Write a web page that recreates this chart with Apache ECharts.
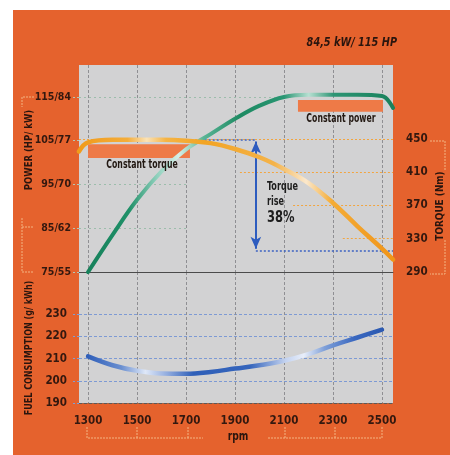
<!DOCTYPE html>
<html><head><meta charset="utf-8">
<script src="https://cdn.jsdelivr.net/npm/echarts@6/dist/echarts.min.js"></script>
<style>html,body{margin:0;padding:0;background:#fff}#c{width:450px;height:455px}</style>
</head><body><div id="c"></div><script>
// ---- data ----
const rpmTicks = [1300, 1500, 1700, 1900, 2100, 2300, 2500];
const powerTicksHP = [75, 85, 95, 105, 115];
const powerTicksKW = [55, 62, 70, 77, 84];
const torqueTicks = [290, 330, 370, 410, 450];
const fuelTicks = [190, 200, 210, 220, 230];

const powerRpm = [1300, 1400, 1500, 1600, 1700, 1800, 1900, 2000, 2100, 2200, 2300, 2400, 2500, 2545];
const powerHP  = [75, 83.5, 91.5, 98, 103, 106.5, 110, 113, 115, 115.5, 115.5, 115.5, 115.2, 112.5];

const torqueRpm = [1263, 1300, 1400, 1500, 1600, 1700, 1800, 1900, 2000, 2100, 2200, 2300, 2400, 2500, 2545];
const torqueNm  = [435, 446, 449, 449, 449, 448, 445, 438, 428, 414, 397, 373, 345, 318, 305];

const fuelRpm = [1300, 1400, 1500, 1600, 1700, 1800, 1900, 2000, 2100, 2200, 2300, 2400, 2500];
const fuelGkWh = [211, 207, 204.5, 203.3, 203.2, 204, 205.5, 207, 209, 212, 216, 219.5, 223];

const riseRpm = 1985, riseTop = 449, riseBottom = 316, risePct = '38%';
const constTorqueBox = [[1300, 443.8], [1716, 427]];
const constPowerBox = [[2157, 114.3], [2504, 111.6]];

// ---- chart ----
const FF = '"Liberation Sans Narrow","DejaVu Sans Condensed","Liberation Sans",Arial,sans-serif';
const DARK = '#33180f';
const chart = echarts.init(document.getElementById('c'), null, {renderer: 'canvas'});
const LG = echarts.graphic.LinearGradient;

const powerXY = powerRpm.map((r, i) => [r, powerHP[i]]);
const torqueXY = torqueRpm.map((r, i) => [r, torqueNm[i]]);
const fuelXY = fuelRpm.map((r, i) => [r, fuelGkWh[i]]);

const seg = (a, b) => [{coord: a}, {coord: b}];
const bracketStyle = {stroke: '#f3b483', lineWidth: 1, lineDash: [2, 1]};
const txt = (x, y, text, size, extra) => Object.assign({type: 'text', x: x, y: y, z: 20,
  style: Object.assign({text: text, fontSize: size, fontWeight: 'bold', fontFamily: FF, fill: '#2a150e',
    textAlign: 'center', textVerticalAlign: 'middle'}, (extra && extra.style) || {})}, (extra && extra.el) || {});

const option = {
  animation: false,
  backgroundColor: 'transparent',
  graphic: [
    {type: 'rect', z: -10, shape: {x: 13, y: 10, width: 437, height: 445}, style: {fill: '#e5622d'}},
    txt(397, 43, '84,5 kW/ 115 HP', 12, {el: {scaleX: 0.9}, style: {fontStyle: 'italic', textAlign: 'right'}}),
    txt(29, 150, 'POWER (HP/ kW)', 11, {el: {rotation: Math.PI / 2, scaleX: 0.86}}),
    txt(440, 206, 'TORQUE (Nm)', 11, {el: {rotation: Math.PI / 2, scaleX: 0.9}}),
    txt(29, 348, 'FUEL CONSUMPTION (g/ kWh)', 10.5, {el: {rotation: Math.PI / 2, scaleX: 0.85}}),
    txt(238, 437, 'rpm', 12, {el: {scaleX: 0.85}}),
    txt(142, 165, 'Constant torque', 12, {el: {scaleX: 0.72}, style: {fill: '#221812'}}),
    txt(341, 119, 'Constant power', 12, {el: {scaleX: 0.72}, style: {fill: '#221812'}}),
    txt(267, 187, 'Torque', 12.5, {el: {scaleX: 0.72}, style: {textAlign: 'left', fill: '#1e1e1e'}}),
    txt(267, 202, 'rise', 12.5, {el: {scaleX: 0.72}, style: {textAlign: 'left', fill: '#1e1e1e'}}),
    txt(267, 218, risePct, 16, {el: {scaleX: 0.8}, style: {textAlign: 'left', fill: '#1e1e1e'}}),
    // decorative brackets
    {type: 'polyline', shape: {points: [[34, 97], [22, 97], [22, 107]]}, style: bracketStyle},
    {type: 'polyline', shape: {points: [[22, 218], [22, 272], [34, 272]]}, style: bracketStyle},
    {type: 'polyline', shape: {points: [[22, 227], [34, 227]]}, style: bracketStyle},
    {type: 'polyline', shape: {points: [[430, 141], [445, 141], [445, 170]]}, style: bracketStyle},
    {type: 'polyline', shape: {points: [[445, 240], [445, 274], [430, 274]]}, style: bracketStyle},
    {type: 'polyline', shape: {points: [[87, 427], [87, 438], [203, 438]]}, style: bracketStyle},
    {type: 'polyline', shape: {points: [[137, 427], [137, 438]]}, style: bracketStyle},
    {type: 'polyline', shape: {points: [[188, 427], [188, 438]]}, style: bracketStyle},
    {type: 'polyline', shape: {points: [[268, 438], [382, 438], [382, 427]]}, style: bracketStyle},
    {type: 'polyline', shape: {points: [[285, 427], [285, 438]]}, style: bracketStyle},
    {type: 'polyline', shape: {points: [[335, 427], [335, 438]]}, style: bracketStyle}
  ],
  grid: [
    {left: 79, top: 65, width: 314, height: 207, show: true, backgroundColor: '#d2d2d3', borderWidth: 0},
    {left: 79, top: 272, width: 314, height: 131, show: true, backgroundColor: '#d2d2d3', borderWidth: 0}
  ],
  xAxis: [
    {type: 'value', gridIndex: 0, min: 1263, max: 2545,
     axisLine: {show: true, onZero: false, lineStyle: {color: '#4b4b4b', width: 1}},
     axisTick: {show: false, customValues: rpmTicks},
     axisLabel: {show: false},
     splitLine: {show: true, lineStyle: {color: '#8f8f93', type: [3, 2], width: 1}}},
    {type: 'value', gridIndex: 1, min: 1263, max: 2545,
     axisLine: {show: true, onZero: false, lineStyle: {color: '#5a5a5a', type: [3, 2], width: 1}},
     axisTick: {show: false, customValues: rpmTicks},
     axisLabel: {show: true, customValues: rpmTicks, margin: 12, color: DARK, fontFamily: FF, fontWeight: 'bold', fontSize: 11.5,
       formatter: v => String(v)},
     splitLine: {show: true, lineStyle: {color: '#8f8f93', type: [3, 2], width: 1}}}
  ],
  yAxis: [
    {type: 'value', gridIndex: 0, position: 'left', min: 75, max: 122.3,
     axisLine: {show: false},
     axisTick: {show: true, customValues: powerTicksHP, length: 7, lineStyle: {color: '#b5c6b5', type: [2, 2]}},
     axisLabel: {customValues: powerTicksHP, margin: 8, color: DARK, fontFamily: FF, fontWeight: 'bold', fontSize: 10.5,
       formatter: v => v + '/' + powerTicksKW[powerTicksHP.indexOf(v)]},
     splitLine: {show: false}},
    {type: 'value', gridIndex: 0, position: 'right', min: 290, max: 539,
     axisLine: {show: false},
     axisTick: {show: false, customValues: torqueTicks},
     axisLabel: {customValues: torqueTicks, margin: 13, color: DARK, fontFamily: FF, fontWeight: 'bold', fontSize: 11.5},
     splitLine: {show: false}},
    {type: 'value', gridIndex: 1, position: 'left', min: 190, max: 249,
     axisLine: {show: false},
     axisTick: {show: true, customValues: fuelTicks, length: 7, lineStyle: {color: '#7f9fd6', type: [2, 2]}},
     axisLabel: {customValues: fuelTicks, margin: 12, color: DARK, fontFamily: FF, fontWeight: 'bold', fontSize: 11.5},
     splitLine: {show: true, lineStyle: {color: '#7d9ad4', type: [3, 2], width: 1}}}
  ],
  series: [
    {
      name: 'Torque', type: 'line', xAxisIndex: 0, yAxisIndex: 1, data: torqueXY, smooth: 0.4, showSymbol: false, z: 4,
      lineStyle: {width: 4.5, cap: 'round', color: new LG(0, 0, 1, 0, [
        {offset: 0, color: '#f09a1a'}, {offset: 0.16, color: '#f4ad3a'}, {offset: 0.22, color: '#fbe2b5'},
        {offset: 0.28, color: '#f5b445'}, {offset: 0.4, color: '#f2a424'}, {offset: 0.62, color: '#f4b34a'},
        {offset: 0.72, color: '#fbe8cc'}, {offset: 0.8, color: '#f4ac36'}, {offset: 1, color: '#f09418'}])},
      markArea: {silent: true, z: 1, itemStyle: {color: '#ee7a47'}, label: {show: false},
        data: [[{coord: constTorqueBox[0]}, {coord: constTorqueBox[1]}]]},
      markLine: {silent: true, symbol: 'none', label: {show: false}, z: 1,
        lineStyle: {color: '#f2a540', type: [2, 2], width: 1},
        data: [
          seg([1263, 450], [2545, 450]), seg([1920, 410], [2545, 410]),
          seg([2137, 370], [2545, 370]), seg([2340, 330], [2545, 330]),
          [{coord: [1760, riseTop], lineStyle: {color: '#3d63c2', type: [2, 2], width: 1.5}}, {coord: [riseRpm, riseTop]}],
          [{coord: [riseRpm, riseBottom], lineStyle: {color: '#3d63c2', type: [2, 2], width: 1.5}}, {coord: [2545, riseBottom]}],
          [{coord: [riseRpm, riseTop - 2], symbol: 'arrow', symbolSize: [8, 12], lineStyle: {color: '#2d5cbf', type: 'solid', width: 2}},
           {coord: [riseRpm, riseBottom + 2], symbol: 'arrow', symbolSize: [8, 12]}]
        ]}
    },
    {
      name: 'Power', type: 'line', xAxisIndex: 0, yAxisIndex: 0, data: powerXY, smooth: 0.4, showSymbol: false, z: 3,
      lineStyle: {width: 4, cap: 'round', color: new LG(0, 0, 1, 0, [
        {offset: 0, color: '#16805a'}, {offset: 0.14, color: '#1f9068'}, {offset: 0.23, color: '#8fd0bc'},
        {offset: 0.3, color: '#d6efe7'}, {offset: 0.38, color: '#5ab596'}, {offset: 0.5, color: '#1d8a62'},
        {offset: 0.64, color: '#2a9673'}, {offset: 0.72, color: '#b7e0d2'}, {offset: 0.8, color: '#2e9574'},
        {offset: 1, color: '#17805a'}])},
      markArea: {silent: true, z: 1, itemStyle: {color: '#ee7a47'}, label: {show: false},
        data: [[{coord: constPowerBox[0]}, {coord: constPowerBox[1]}]]},
      markLine: {silent: true, symbol: 'none', label: {show: false}, z: 1,
        lineStyle: {color: '#9cbdab', type: [2, 3], width: 1},
        data: [seg([1263, 115], [2130, 115]), seg([1263, 95], [1700, 95]), seg([1263, 85], [1700, 85])]}
    },
    {
      name: 'Fuel', type: 'line', xAxisIndex: 1, yAxisIndex: 2, data: fuelXY, smooth: 0.4, showSymbol: false, z: 3,
      lineStyle: {width: 4.5, cap: 'round', color: new LG(0, 0, 1, 0, [
        {offset: 0, color: '#2c5cb8'}, {offset: 0.12, color: '#6a8fd0'}, {offset: 0.2, color: '#dfe8f8'},
        {offset: 0.27, color: '#95afe0'}, {offset: 0.36, color: '#2f5fb8'}, {offset: 0.55, color: '#3565bc'},
        {offset: 0.67, color: '#c4d3f0'}, {offset: 0.73, color: '#e8eefa'}, {offset: 0.8, color: '#7e9fd8'},
        {offset: 0.9, color: '#3a68c0'}, {offset: 1, color: '#2a58b0'}])}
    }
  ]
};
chart.setOption(option);
</script></body></html>
